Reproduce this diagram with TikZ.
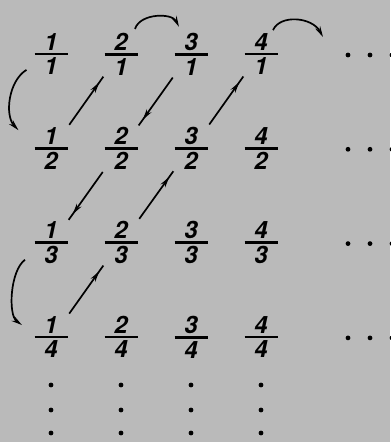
\documentclass[tikz,border=0pt]{standalone}
\usepackage{fontspec}
\setmainfont{TeX Gyre Heros}
\usetikzlibrary{arrows.meta, calc, decorations.markings}

\newcommand{\frc}[2]{\vbox{\hbox to 33bp{\hss#1\hss}\kern2.5bp\hrule height 2.8bp\kern2.5bp\hbox to 33bp{\hss#2\hss}}}

\begin{document}
\begin{tikzpicture}[x=1bp, y=-1bp,
  font=\fontsize{24}{24}\selectfont\bfseries\itshape,
  frac/.style={inner sep=0pt, outer sep=0pt},
  arr/.style={line width=1.7bp, shorten <=3bp, shorten >=2bp,
              postaction={decorate},
              decoration={markings, mark=at position 0.86 with {\arrow{Stealth[length=11bp, width=5.5bp]}}}},
  curvarr/.style={-{Stealth[length=11bp, width=5.5bp]}, line width=1.7bp},
]
\useasboundingbox[fill=black!27] (0,0) rectangle (390,442);

% the table of fractions
\foreach \n in {1,...,4}
  \foreach \d in {1,...,4}
    \node[frac] (f\n\d) at ({51+70*(\n-1)},{54+94.3*(\d-1)}) {\frc{\n}{\d}};

% dots
\foreach \d in {1,...,4}
  \foreach \k in {0,1,2}
    \fill ({348+22*\k},{55+94.3*(\d-1)}) circle (2.4);
\foreach \n in {1,...,4}
  \foreach \y in {385,410,433}
    \fill ({51+70*(\n-1)},\y) circle (2.4);

\coordinate (nxt) at (323,37);

% the path through the table
\draw[curvarr] ($(f11.south west)+(-8,-5)$) .. controls +(-18,11) and +(-14,-15) .. ($(f12.north west)+(-16,3)$);
\draw[arr] (f12.north east) -- (f21.south west);
\draw[curvarr] ($(f21.north east)+(-2.5,-4)$) .. controls +(5,-16) and +(-7,-14) .. ($(f31.north west)+(4.5,-6)$);
\draw[arr] (f31.south west) -- (f22.north east);
\draw[arr] (f22.south west) -- (f13.north east);
\draw[curvarr] ($(f13.south west)+(-9.5,-4)$) .. controls +(-15,11) and +(-14,-10) .. ($(f14.north west)+(-12.5,9)$);
\draw[arr] (f14.north east) -- (f23.south west);
\draw[arr] (f23.north east) -- (f32.south west);
\draw[arr] (f32.north east) -- (f41.south west);
\draw[curvarr] ($(f41.north east)+(-4.5,-3)$) .. controls +(7,-16) and +(-11,-20) .. (nxt);
\end{tikzpicture}
\end{document}
